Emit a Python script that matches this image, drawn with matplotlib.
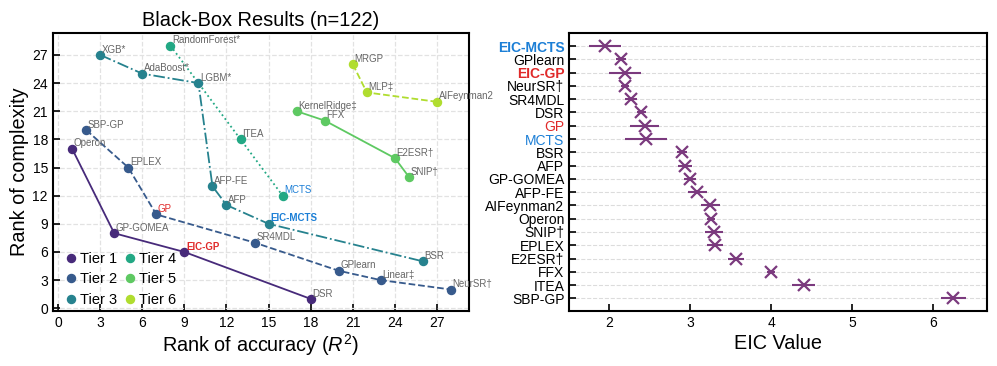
import matplotlib
matplotlib.use("Agg")
import matplotlib.pyplot as plt
import numpy as np

plt.rcParams['font.family'] = ['Liberation Sans', 'DejaVu Sans']
plt.rcParams['mathtext.fontset'] = 'custom'
plt.rcParams['mathtext.rm'] = 'Liberation Sans'
plt.rcParams['mathtext.it'] = 'Liberation Sans:italic'

# ---------------- Left panel data ----------------
tier1_names = ["Operon", "GP-GOMEA", "EIC-GP", "DSR"]
tier1_x = [1, 4, 9, 18]
tier1_y = [17, 8, 6, 1]

tier2_names = ["SBP-GP", "EPLEX", "GP", "SR4MDL", "GPlearn", "Linear‡", "NeurSR†"]
tier2_x = [2, 5, 7, 14, 20, 23, 28]
tier2_y = [19, 15, 10, 7, 4, 3, 2]

tier3_names = ["XGB*", "AdaBoost*", "LGBM*", "AFP-FE", "AFP", "EIC-MCTS", "BSR"]
tier3_x = [3, 6, 10, 11, 12, 15, 26]
tier3_y = [27, 25, 24, 13, 11, 9, 5]

tier4_names = ["RandomForest*", "ITEA", "MCTS"]
tier4_x = [8, 13, 16]
tier4_y = [28, 18, 12]

tier5_names = ["KernelRidge‡", "FFX", "E2ESR†", "SNIP†"]
tier5_x = [17, 19, 24, 25]
tier5_y = [21, 20, 16, 14]

tier6_names = ["MRGP", "MLP‡", "AIFeynman2"]
tier6_x = [21, 22, 27]
tier6_y = [26, 23, 22]

tier_labels = ["Tier 1", "Tier 2", "Tier 3", "Tier 4", "Tier 5", "Tier 6"]
x_ticks = [0, 3, 6, 9, 12, 15, 18, 21, 24, 27]
y_ticks = [0, 3, 6, 9, 12, 15, 18, 21, 24, 27]

# ---------------- Right panel data ----------------
eic_methods = ["EIC-MCTS", "GPlearn", "EIC-GP", "NeurSR†", "SR4MDL", "DSR", "GP", "MCTS",
               "BSR", "AFP", "GP-GOMEA", "AFP-FE", "AIFeynman2", "Operon", "SNIP†",
               "EPLEX", "E2ESR†", "FFX", "ITEA", "SBP-GP"]
eic_values = [1.95, 2.15, 2.20, 2.20, 2.27, 2.40, 2.44, 2.46,
              2.90, 2.94, 3.00, 3.09, 3.25, 3.26, 3.30,
              3.31, 3.57, 4.00, 4.40, 6.25]
eic_errors = [0.20, 0.06, 0.20, 0.05, 0.07, 0.06, 0.18, 0.26,
              0.06, 0.09, 0.07, 0.12, 0.115, 0.05, 0.11,
              0.10, 0.10, 0.05, 0.14, 0.16]
eic_ticks = [2, 3, 4, 5, 6]

# ---------------- Styles ----------------
cmap = plt.get_cmap('viridis')
tier_colors = [cmap(v) for v in [0.12, 0.28, 0.44, 0.60, 0.75, 0.88]]
line_styles = ['-', '--', '-.', ':', '-', '--']
BLUE = '#1c7fd6'
RED = '#e02a2a'
special = {
    "EIC-MCTS": dict(color=BLUE, fontweight='bold'),
    "EIC-GP": dict(color=RED, fontweight='bold'),
    "GP": dict(color=RED, fontweight='normal'),
    "MCTS": dict(color=BLUE, fontweight='normal'),
}

fig = plt.figure(figsize=(9.97, 3.66), dpi=100)
ax1 = fig.add_axes([0.0529, 0.151, 0.4178, 0.758])
ax2 = fig.add_axes([0.571, 0.150, 0.4187, 0.759])

tiers = [
    (tier1_names, tier1_x, tier1_y),
    (tier2_names, tier2_x, tier2_y),
    (tier3_names, tier3_x, tier3_y),
    (tier4_names, tier4_x, tier4_y),
    (tier5_names, tier5_x, tier5_y),
    (tier6_names, tier6_x, tier6_y),
]

ax1.set_axisbelow(True)
for i, (names, xs, ys) in enumerate(tiers):
    c = tier_colors[i]
    ax1.plot(xs, ys, linestyle=line_styles[i], color=c, lw=1.3, zorder=2)
    ax1.plot(xs, ys, linestyle='none', marker='o', ms=5.8, color=c, zorder=3,
             label=tier_labels[i])
    for n, x, y in zip(names, xs, ys):
        st = special.get(n, dict(color='#666666', fontweight='normal'))
        ax1.annotate(n, (x, y), xytext=(1.2, 1.7), textcoords='offset points',
                     ha='left', va='baseline', fontsize=7, zorder=4, **st)

ax1.set_xticks(x_ticks)
ax1.set_yticks(y_ticks)
ax1.set_xlim(-0.38, 29.3)
ax1.set_ylim(-0.26, 29.3)
ax1.grid(True, linestyle='--', color='#e2e2e2', lw=0.9)
ax1.tick_params(direction='in', labelsize=10, length=5, width=1.2)
for s in ax1.spines.values():
    s.set_linewidth(1.5)
ax1.set_xlabel(r"Rank of accuracy ($R^2$)", fontsize=14.3, labelpad=2)
ax1.set_ylabel("Rank of complexity", fontsize=14.3, labelpad=2)
ax1.set_title("Black-Box Results (n=122)", fontsize=14.4, pad=5)
leg = ax1.legend(loc='lower left', bbox_to_anchor=(0.016, -0.0076), ncol=2,
                 frameon=False, fontsize=10.5, handlelength=0.8,
                 handletextpad=0.22, columnspacing=0.5, labelspacing=0.45,
                 borderaxespad=0.0, borderpad=0.4)

# ---------------- Right panel ----------------
ypos = np.arange(len(eic_methods))
ax2.set_axisbelow(True)
for yv in ypos:
    ax2.axhline(yv, color='#dcdcdc', linestyle='--', lw=0.8, zorder=0)
ax2.errorbar(eic_values, ypos, xerr=eic_errors, fmt='x', color='#7b3a7e',
             ms=9, mew=1.6, elinewidth=1.5, capsize=0, zorder=3)
ax2.set_yticks(ypos)
ax2.set_yticklabels(eic_methods)
ax2.set_ylim(len(eic_methods) - 1 + 0.96, -0.96)
ax2.set_xticks(eic_ticks)
ax2.set_xlim(1.51, 6.66)
ax2.tick_params(direction='in', labelsize=10, length=5, width=1.2)
for lab in ax2.get_yticklabels():
    t = lab.get_text()
    if t in special:
        lab.set_color(special[t]['color'])
        lab.set_fontweight(special[t]['fontweight'])
for s in ax2.spines.values():
    s.set_linewidth(1.5)
ax2.set_xlabel("EIC Value", fontsize=14.3, labelpad=3)

fig.savefig("out.png", dpi=100)
